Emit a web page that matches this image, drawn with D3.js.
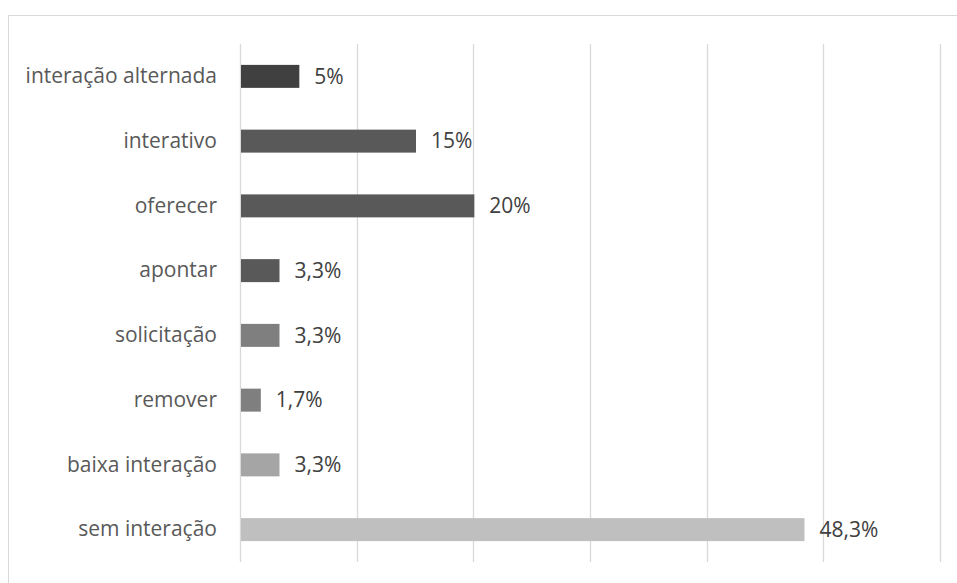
<!DOCTYPE html>
<html>
<head>
<meta charset="utf-8">
<script src="https://cdn.jsdelivr.net/npm/d3@7"></script>
<style>
  body { margin: 0; background: #fff; }
  text { font-family: "Open Sans", sans-serif; }
</style>
</head>
<body>
<svg width="957" height="583"></svg>
<script>
// categories top to bottom
var categories = ['interação alternada', 'interativo', 'oferecer', 'apontar', 'solicitação', 'remover', 'baixa interação', 'sem interação'];
var values = [5, 15, 20, 3.3, 3.3, 1.7, 3.3, 48.3];
var valueLabels = ['5%', '15%', '20%', '3,3%', '3,3%', '1,7%', '3,3%', '48,3%'];
var barColors = ['#404040', '#595959', '#595959', '#595959', '#7f7f7f', '#7f7f7f', '#a5a5a5', '#bfbfbf'];
var ticks = [0, 10, 20, 30, 40, 50, 60];

var width = 957, height = 583;
var plot = {left: 240, right: 940, top: 44, bottom: 562};
var fontSize = 21;

var svg = d3.select('svg');

// outer chart border
svg.append('rect')
  .attr('x', 8.5).attr('y', 15.5)
  .attr('width', 960).attr('height', 600)
  .attr('fill', 'none')
  .attr('stroke', '#d9d9d9')
  .attr('stroke-width', 1);

var xScale = d3.scaleLinear()
  .domain([0, 60])
  .range([plot.left, plot.right]);

var yScale = d3.scaleBand()
  .domain(categories)
  .range([plot.top, plot.bottom])
  .paddingInner(0.645)
  .paddingOuter(0.3225);

// gridlines
svg.append('g')
  .selectAll('line')
  .data(ticks)
  .enter().append('line')
  .attr('x1', d => Math.round(xScale(d)) + 0.5)
  .attr('x2', d => Math.round(xScale(d)) + 0.5)
  .attr('y1', plot.top)
  .attr('y2', plot.bottom)
  .attr('stroke', '#d9d9d9')
  .attr('stroke-width', 1.3);

// bars
svg.append('g')
  .selectAll('rect')
  .data(values)
  .enter().append('rect')
  .attr('x', xScale(0) + 1)
  .attr('y', (d, i) => yScale(categories[i]))
  .attr('width', d => xScale(d) - xScale(0))
  .attr('height', yScale.bandwidth())
  .attr('fill', (d, i) => barColors[i]);

// value labels
svg.append('g')
  .selectAll('text')
  .data(values)
  .enter().append('text')
  .attr('x', d => xScale(d) + 16)
  .attr('y', (d, i) => yScale(categories[i]) + yScale.bandwidth() / 2)
  .attr('dy', '0.35em')
  .attr('font-size', fontSize)
  .attr('fill', '#404040')
  .text((d, i) => valueLabels[i]);

// category axis
var yAxis = d3.axisLeft(yScale).tickSize(0).tickPadding(23);
var gy = svg.append('g')
  .attr('transform', 'translate(' + [plot.left, 0] + ')')
  .call(yAxis);
gy.select('.domain').remove();
gy.selectAll('text')
  .attr('font-family', '"Open Sans", sans-serif')
  .attr('font-size', fontSize)
  .attr('fill', '#595959');
</script>
</body>
</html>
